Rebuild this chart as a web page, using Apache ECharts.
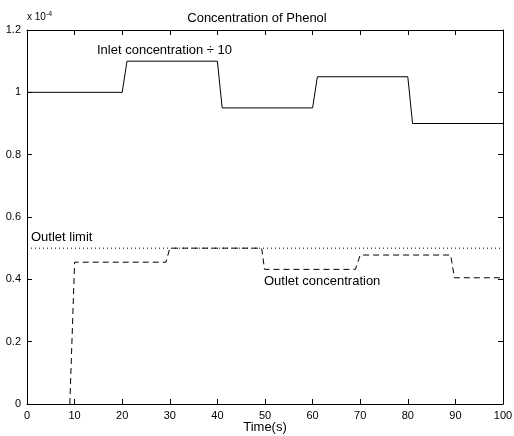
<!DOCTYPE html>
<html>
<head>
<meta charset="utf-8">
<script src="https://cdn.jsdelivr.net/npm/echarts@6/dist/echarts.min.js"></script>
<style>
  html, body { margin: 0; padding: 0; background: #fff; }
  #chart { width: 514px; height: 436px; }
</style>
</head>
<body>
<div id="chart"></div>
<script>
  // values in units of 1e-4
  const inletTime = [0, 20, 21, 40, 41, 60, 61, 80, 81, 100];
  const inletValue = [1, 1, 1.1, 1.1, 0.95, 0.95, 1.05, 1.05, 0.9, 0.9];
  const outletTime = [9, 10, 29.2, 30, 49.3, 49.9, 69, 70, 89, 89.8, 100];
  const outletValue = [0, 0.455, 0.455, 0.5, 0.5, 0.432, 0.432, 0.478, 0.478, 0.405, 0.405];
  const limitTime = [0, 100];
  const limitValue = [0.5, 0.5];

  const zip = (a, b) => a.map((v, i) => [v, b[i]]);
  const font = "Liberation Sans";

  const chart = echarts.init(document.getElementById("chart"));
  const tickAxis = (pos, showLabel) => ({
    type: "value",
    position: pos,
    min: 0,
    axisLine: { show: true, onZero: false, lineStyle: { color: "#000", width: 1 } },
    axisTick: { show: true, inside: true, length: 5, lineStyle: { color: "#000" } },
    axisLabel: { show: showLabel, color: "#000", fontFamily: font, fontSize: 11, margin: 6 },
    splitLine: { show: false }
  });

  chart.setOption({
    animation: false,
    title: {
      text: "Concentration of Phenol",
      left: "center",
      top: 7,
      textStyle: { fontFamily: font, fontSize: 13, fontWeight: "normal", color: "#000" }
    },
    grid: { left: 27, right: 11, top: 30, bottom: 32, containLabel: false, outerBoundsMode: "none" },
    xAxis: [
      Object.assign(tickAxis("bottom", true), {
        max: 100, interval: 10,
        name: "Time(s)", nameLocation: "middle", nameGap: 17, nameMoveOverlap: false,
        nameTextStyle: { fontFamily: font, fontSize: 13, color: "#000" }
      }),
      Object.assign(tickAxis("top", false), { max: 100, interval: 10 })
    ],
    yAxis: [
      Object.assign(tickAxis("left", true), { max: 1.2, interval: 0.2 }),
      Object.assign(tickAxis("right", false), { max: 1.2, interval: 0.2 })
    ],
    graphic: [
      {
        type: "text", left: 27, top: 11,
        style: {
          text: "x 10{s|-4}",
          fontFamily: font, fontSize: 10, fill: "#000",
          rich: { s: { fontSize: 7, verticalAlign: "top", padding: [0, 0, 6, 0], fontFamily: font } }
        }
      },
      { type: "text", left: 97, top: 44,
        style: { text: "Inlet concentration \u00f7 10", fontFamily: font, fontSize: 13, fill: "#000" } },
      { type: "text", left: 31, top: 231,
        style: { text: "Outlet limit", fontFamily: font, fontSize: 13, fill: "#000" } },
      { type: "text", left: 264, top: 275,
        style: { text: "Outlet concentration", fontFamily: font, fontSize: 13, fill: "#000" } }
    ],
    series: [
      {
        type: "line", data: zip(inletTime, inletValue), symbol: "none",
        lineStyle: { color: "#000", width: 1 }
      },
      {
        type: "line", data: zip(outletTime, outletValue), symbol: "none",
        lineStyle: { color: "#000", width: 1, type: [6, 4] }
      },
      {
        type: "line", data: zip(limitTime, limitValue), symbol: "none",
        lineStyle: { color: "#000", width: 1, type: [1, 3] }
      }
    ]
  });
</script>
</body>
</html>
